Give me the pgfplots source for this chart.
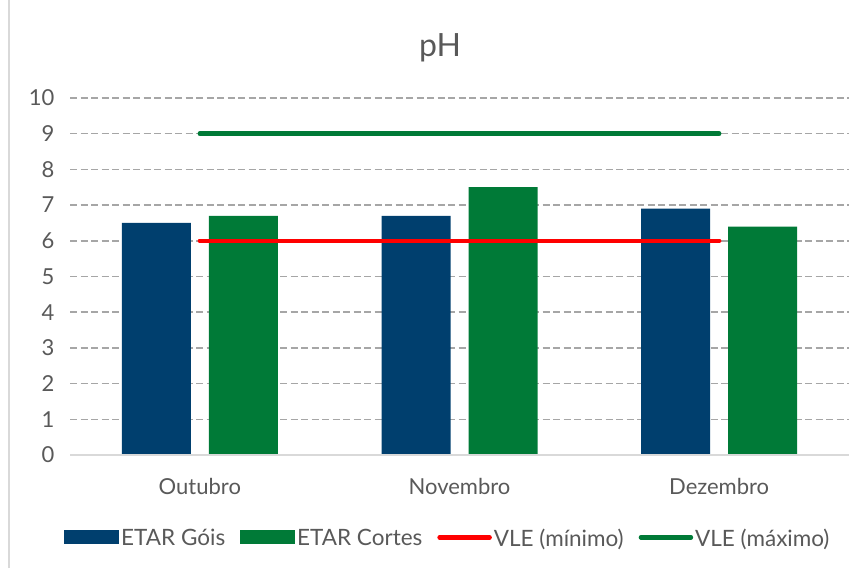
\documentclass[border=0pt]{standalone}
\usepackage{pgfplots}
\pgfplotsset{compat=1.18}
\usepackage{fontspec}
\setmainfont{Lato}
\definecolor{barblue}{HTML}{003F6E}
\definecolor{bargreen}{HTML}{007A37}
\definecolor{txt}{HTML}{595959}
\definecolor{gridc}{HTML}{A6A6A6}
\definecolor{axisl}{HTML}{D9D9D9}
\begin{document}
\begin{tikzpicture}[x=1pt,y=1pt]
\path[use as bounding box] (0,0) rectangle (867,568);
\draw[axisl, line width=1.5pt] (9,0) -- (9,568);
\node[text=txt, font=\fontsize{32}{36}\selectfont] at (440,520) {pH};
\begin{axis}[
  at={(70pt,113pt)}, anchor=south west, scale only axis,
  width=779pt, height=357pt,
  xmin=-0.5, xmax=2.5, ymin=0, ymax=10,
  ytick={0,1,...,10}, xtick={0,1,2},
  xticklabels={Outubro,Novembro,Dezembro},
  /pgf/number format/assume math mode=true,
  axis line style={draw=none},
  major tick length=0pt,
  ymajorgrids=true, xmajorgrids=false,
  major grid style={draw=gridc, line width=1.5pt, dash pattern=on 7pt off 3.5pt},
  tick label style={text=txt, font=\fontsize{22}{26}\selectfont},
  yticklabel style={anchor=east, xshift=-12pt},
  xticklabel style={yshift=-20pt},
  legend style={at={(0.485,-0.195)}, anchor=north, draw=none, fill=none,
    legend columns=4, font=\fontsize{22.5}{26}\selectfont, text=txt,
    /tikz/every even column/.append style={column sep=13pt}},
  legend cell align=left,
]
\addplot[ybar, bar width=69pt, bar shift=-43.5pt, fill=barblue, draw=none,
  legend image code/.code={\fill[barblue] (0pt,-6pt) rectangle (55pt,8pt);}]
  coordinates {(0,6.5) (1,6.7) (2,6.9)};
\addlegendentry{ETAR Góis}
\addplot[ybar, bar width=69pt, bar shift=43.5pt, fill=bargreen, draw=none,
  legend image code/.code={\fill[bargreen] (0pt,-6pt) rectangle (55pt,8pt);}]
  coordinates {(0,6.7) (1,7.5) (2,6.4)};
\addlegendentry{ETAR Cortes}
\addplot[red, line width=4.5pt, line cap=round,
  legend image code/.code={\draw[red, line width=4.5pt, line cap=round] (2pt,1pt) -- (52pt,1pt);}]
  coordinates {(0,6) (2,6)};
\addlegendentry{VLE (mínimo)}
\addplot[bargreen, line width=4.5pt, line cap=round,
  legend image code/.code={\draw[bargreen, line width=4.5pt, line cap=round] (2pt,1pt) -- (52pt,1pt);}]
  coordinates {(0,9) (2,9)};
\addlegendentry{VLE (máximo)}
\draw[axisl, line width=1.5pt] (axis cs:-0.5,0) -- (axis cs:2.5,0);
\end{axis}
\end{tikzpicture}
\end{document}
